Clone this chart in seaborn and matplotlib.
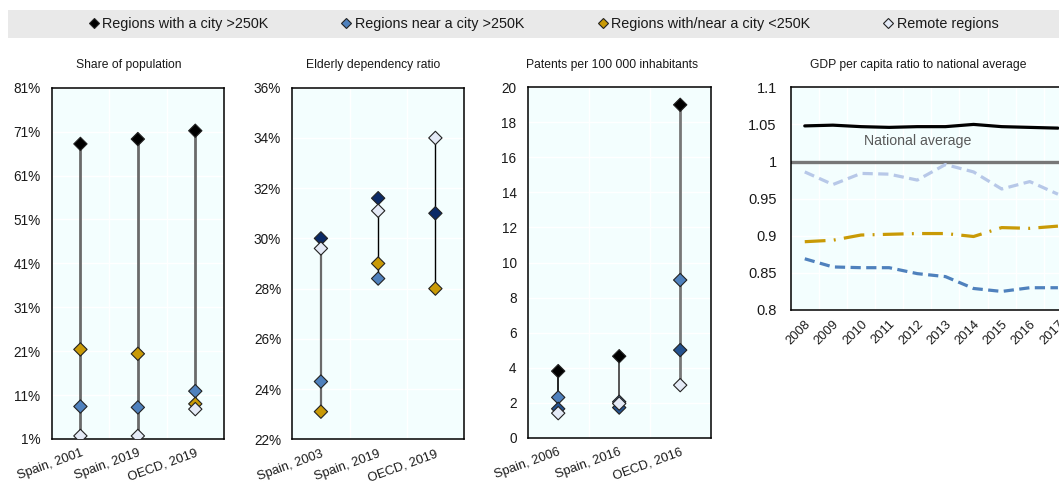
import numpy as np
import pandas as pd
import matplotlib
matplotlib.use("Agg")
import matplotlib.pyplot as plt
from matplotlib.lines import Line2D
from matplotlib.patches import Rectangle
from matplotlib.ticker import FixedLocator, FuncFormatter
import seaborn as sns

sns.set_style("white")
plt.rcParams["font.family"] = ["Liberation Sans Narrow", "Liberation Sans", "DejaVu Sans"]

# ---- data -------------------------------------------------------------
groups = ["Regions with a city >250K", "Regions near a city >250K",
          "Regions with/near a city <250K", "Remote regions"]

pop_cats = ["Spain, 2001", "Spain, 2019", "OECD, 2019"]
pop_city = [68.2, 69.3, 71.2]
pop_near = [8.4, 8.2, 11.9]
pop_small = [21.4, 20.4, 9.0]
pop_remote = [1.7, 1.7, 7.8]

eld_cats = ["Spain, 2003", "Spain, 2019", "OECD, 2019"]
eld_city = [30.0, 31.6, 31.0]
eld_near = [24.3, 28.4, np.nan]
eld_small = [23.1, 29.0, 28.0]
eld_remote = [29.6, 31.1, 34.0]

pat_cats = ["Spain, 2006", "Spain, 2016", "OECD, 2016"]
pat_city = [3.8, 4.65, 19.0]
pat_near = [2.3, 2.05, 9.0]
pat_small = [1.65, 1.72, 5.0]
pat_remote = [1.4, 1.95, 3.0]

gdp_years = ["2008", "2009", "2010", "2011", "2012", "2013", "2014", "2015", "2016", "2017"]
gdp_city = [1.048, 1.049, 1.047, 1.046, 1.047, 1.047, 1.050, 1.047, 1.046, 1.045]
gdp_near = [0.869, 0.858, 0.857, 0.857, 0.849, 0.845, 0.829, 0.825, 0.830, 0.830]
gdp_small = [0.892, 0.894, 0.901, 0.902, 0.903, 0.903, 0.899, 0.911, 0.910, 0.913]
gdp_remote = [0.986, 0.969, 0.984, 0.983, 0.975, 0.996, 0.986, 0.963, 0.973, 0.956]
national_average = 1.0

# ---- styling ------------------------------------------------------------
BLACK = "#000000"
NAVY = "#0b2a66"
MIDBLUE = "#4f81bd"
DARKBLUE = "#24528f"
GOLD = "#c99a06"
PALE = "#e4eaf6"
LIGHTBLUE = "#b7c8e8"
AXBG = "#f3fefe"
TXT = "#1a1a1a"

legend_colors = [BLACK, MIDBLUE, GOLD, PALE]

fig = plt.figure(figsize=(10.59, 4.84), dpi=100)
W, H = 1059.0, 484.0


def px_axes(left, top, right, bottom):
    return fig.add_axes([left / W, 1 - bottom / H, (right - left) / W, (bottom - top) / H])


def style_axes(ax, ncat):
    ax.set_facecolor(AXBG)
    for sp in ax.spines.values():
        sp.set_color(BLACK)
        sp.set_linewidth(1.1)
        sp.set_visible(True)
    ax.set_xlim(-0.5, ncat - 0.5)
    ax.xaxis.set_minor_locator(FixedLocator(np.arange(0.5, ncat - 0.5, 1.0)))
    ax.tick_params(axis="x", which="major", length=0, labelsize=9.3, colors=TXT, pad=6)
    ax.tick_params(axis="x", which="minor", length=4, direction="in", width=1, color=BLACK)
    ax.tick_params(axis="y", which="major", length=0, labelsize=9.8, colors=TXT, pad=8)
    ax.grid(True, axis="y", which="major", color="white", linewidth=1.0)
    ax.grid(True, axis="x", which="minor", color="white", linewidth=1.0)
    ax.set_axisbelow(True)
    ax.set_xlabel("")
    ax.set_ylabel("")


def dot_panel(ax, cats, series, colors, line_colors, line_widths, yticks, fmt):
    rows = []
    for g, vals in zip(groups, series):
        for c, v in zip(cats, vals):
            if not np.isnan(v):
                rows.append({"cat": c, "group": g, "value": v})
    df = pd.DataFrame(rows)
    pos = {c: i for i, c in enumerate(cats)}
    df["x"] = df["cat"].map(pos)
    span = df.groupby("x")["value"].agg(["min", "max"])
    for x, r in span.iterrows():
        ax.plot([x, x], [r["min"], r["max"]], color=line_colors[x],
                linewidth=line_widths[x], zorder=2, solid_capstyle="butt")
    sns.scatterplot(data=df, x="x", y="value", hue="group", hue_order=groups,
                    palette=dict(zip(groups, colors)), marker="D", s=46,
                    edgecolor="#222222", linewidth=0.8, legend=False, zorder=3, ax=ax)
    style_axes(ax, len(cats))
    ax.set_xticks(range(len(cats)))
    ax.set_xticklabels(cats, rotation=20, ha="right", rotation_mode="anchor")
    ax.set_ylim(yticks[0], yticks[-1])
    ax.set_yticks(yticks)
    ax.yaxis.set_major_formatter(FuncFormatter(fmt))


# Panel 1: share of population
ax1 = px_axes(51.7, 87.7, 224.0, 439.0)
dot_panel(ax1, pop_cats, [pop_city, pop_near, pop_small, pop_remote],
          [BLACK, MIDBLUE, GOLD, PALE], ["#6a6a6a"] * 3, [2.0] * 3,
          np.arange(1, 82, 10), lambda v, p: f"{v:.0f}%")

# Panel 2: elderly dependency ratio
ax2 = px_axes(292.3, 87.7, 464.0, 439.3)
dot_panel(ax2, eld_cats, [eld_city, eld_near, eld_small, eld_remote],
          [NAVY, MIDBLUE, GOLD, PALE], ["#6a6a6a", BLACK, BLACK], [1.6, 1.0, 1.0],
          np.arange(22, 37, 2), lambda v, p: f"{v:.0f}%")

# Panel 3: patents
ax3 = px_axes(527.7, 87.3, 710.7, 437.7)
dot_panel(ax3, pat_cats, [pat_city, pat_near, pat_small, pat_remote],
          [BLACK, MIDBLUE, DARKBLUE, PALE], [BLACK, "#555555", "#777777"], [1.2, 1.4, 2.0],
          np.arange(0, 21, 2), lambda v, p: f"{v:.0f}")

# Panel 4: GDP per capita relative to national average
ax4 = px_axes(790.7, 87.3, 1072.0, 310.0)
gdf = pd.DataFrame({"x": np.arange(len(gdp_years)), "city": gdp_city, "near": gdp_near,
                    "small": gdp_small, "remote": gdp_remote})
ax4.axhline(national_average, color="#777777", linewidth=2.4, zorder=2)
sns.lineplot(data=gdf, x="x", y="city", color=BLACK, linewidth=2.3, ax=ax4, zorder=3)
sns.lineplot(data=gdf, x="x", y="remote", color=LIGHTBLUE, linewidth=2.3,
             linestyle=(0, (3.2, 1.7)), ax=ax4, zorder=3)
sns.lineplot(data=gdf, x="x", y="small", color=GOLD, linewidth=2.3,
             linestyle=(0, (6.5, 2.6, 0.6, 2.6)), ax=ax4, zorder=3)
sns.lineplot(data=gdf, x="x", y="near", color=MIDBLUE, linewidth=2.3,
             linestyle=(0, (3.2, 1.7)), ax=ax4, zorder=3)
ax4.text(4.03, 1.027, "National average", ha="center", va="center",
         fontsize=10.2, color="#595959")
style_axes(ax4, len(gdp_years))
ax4.spines["right"].set_visible(False)
ax4.set_xticks(range(len(gdp_years)))
ax4.set_xticklabels(gdp_years, rotation=45, ha="right", rotation_mode="anchor")
ax4.set_ylim(0.8, 1.1)
ax4.set_yticks([0.8, 0.85, 0.9, 0.95, 1.0, 1.05, 1.1])
ax4.yaxis.set_major_formatter(FuncFormatter(lambda v, p: f"{v:g}"))
ax4.tick_params(axis="y", labelsize=10.5, pad=10)

# Panel titles
titles = [("Share of population", 128.5), ("Elderly dependency ratio", 373.5),
          ("Patents per 100 000 inhabitants", 612.5),
          ("GDP per capita ratio to national average", 918.0)]
for t, cx in titles:
    fig.text(cx / W, 1 - 65 / H, t, ha="center", va="center", fontsize=8.7, color=TXT)

# Legend band across the top
fig.patches.append(Rectangle((8 / W, 1 - 38 / H), 1.0, 28 / H, transform=fig.transFigure,
                             facecolor="#e9e9e9", edgecolor="none", zorder=0))
handles = [Line2D([], [], linestyle="none", marker="D", markersize=5.0,
                  markerfacecolor=c, markeredgecolor="#222222", markeredgewidth=0.8)
           for c in legend_colors]
fig.legend(handles, groups, loc="center", bbox_to_anchor=(544 / W, 1 - 24 / H),
           ncol=4, frameon=False, fontsize=10.4, handlelength=0.6, handletextpad=0.3,
           columnspacing=5.1, labelcolor=TXT)

fig.savefig("out.png", dpi=100)
